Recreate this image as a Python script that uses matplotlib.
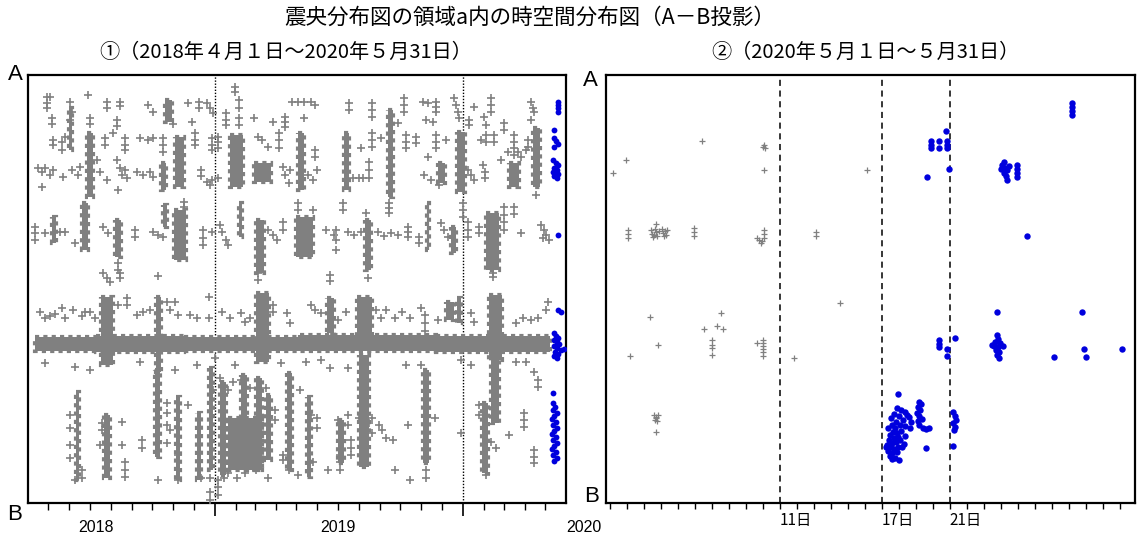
import datetime as dt
import matplotlib.pyplot as plt
from matplotlib.transforms import blended_transform_factory

plt.rcParams['font.family'] = ['Noto Sans CJK JP', 'DejaVu Sans']

GRAY = '#808080'
BLUE = '#0000dd'

# ---------------- panel 1 : days since 2018-04-01 / distance from A (A=0, B=428)
left_start = dt.date(2018, 4, 1)
left_end = dt.date(2020, 6, 1)

# dense swarms drawn as filled blocks: (day0, day1, dist_top, dist_bottom)
swarms = [
    (60, 65, 33, 75), (87, 96, 58, 122), (202, 212, 25, 47), (217, 230, 62, 112),
    (298, 317, 60, 112), (332, 357, 88, 107), (398, 407, 58, 115), (465, 472, 58, 115),
    (530, 538, 35, 122), (603, 614, 88, 108), (631, 643, 57, 117), (708, 723, 88, 112),
    (743, 754, 53, 112), (196, 203, 88, 115),
    (35, 41, 142, 168), (80, 89, 128, 175), (128, 137, 145, 182), (215, 233, 135, 185),
    (199, 205, 130, 152), (336, 348, 145, 198), (395, 419, 142, 182), (496, 505, 145, 195),
    (622, 630, 152, 178), (674, 693, 138, 195), (587, 591, 128, 175), (311, 315, 128, 162),
    # main horizontal band
    (10, 100, 262, 276), (100, 230, 261, 277), (230, 400, 262, 276),
    (400, 600, 260, 276), (600, 768, 261, 277),
    # streaks through the band
    (108, 125, 222, 290), (189, 196, 222, 297), (336, 355, 218, 287), (440, 451, 223, 258),
    (485, 506, 222, 260), (487, 502, 280, 392), (616, 627, 227, 245), (631, 638, 223, 248),
    (679, 698, 220, 285), (681, 694, 285, 348), (581, 590, 295, 388),
    # lower part
    (71, 75, 317, 405), (112, 120, 340, 403), (187, 195, 295, 382), (218, 224, 322, 405),
    (249, 255, 338, 405), (266, 273, 293, 395), (295, 345, 343, 395), (283, 291, 307, 400),
    (313, 322, 300, 395), (335, 345, 303, 395), (350, 357, 320, 385), (381, 389, 298, 395),
    (410, 416, 322, 402), (456, 465, 345, 388), (668, 677, 328, 398),
]

left_gray = [
    (28, 22), (28, 28), (28, 33), (32, 22), (35, 43), (35, 49), (37, 65), (37, 70), (50, 67),
    (50, 75), (55, 62), (62, 27), (65, 37), (62, 45), (89, 20), (91, 43), (91, 49), (117, 27),
    (117, 33), (114, 63), (114, 70), (125, 58), (131, 45), (131, 51), (136, 27), (136, 31),
    (143, 63), (143, 70), (143, 75), (165, 63), (176, 65), (184, 63), (176, 30), (184, 37),
    (199, 63), (199, 70), (199, 77), (214, 49), (236, 28), (242, 47), (251, 27), (251, 33),
    (246, 58), (246, 65), (246, 70), (264, 28), (268, 33), (273, 38), (271, 63), (271, 70),
    (271, 75), (280, 62), (280, 67), (280, 73), (291, 38), (291, 45), (291, 50), (305, 12),
    (305, 17), (310, 25), (310, 33), (310, 43), (310, 50), (332, 43), (338, 62), (345, 65),
    (353, 72), (361, 47), (369, 58), (369, 65), (369, 73), (379, 42), (379, 47), (379, 52),
    (389, 27), (397, 27), (406, 27), (416, 27), (423, 30), (406, 43), (423, 75), (423, 82),
    (472, 28), (472, 35), (507, 28), (507, 35), (507, 42), (507, 58), (507, 65), (507, 72),
    (490, 73), (519, 63), (544, 48), (553, 23), (553, 30), (553, 37), (556, 60), (556, 67),
    (556, 73), (571, 62), (571, 68), (581, 27), (589, 28), (586, 45), (596, 47), (600, 27),
    (600, 32), (600, 37), (600, 60), (600, 67), (600, 73), (615, 65), (627, 23), (630, 30),
    (633, 37), (634, 43), (649, 45), (649, 50), (656, 32), (667, 65), (671, 42), (674, 50),
    (674, 60), (674, 67), (681, 23), (681, 30), (681, 37), (686, 60), (686, 67), (696, 85),
    (701, 48), (701, 55), (707, 77), (715, 80), (715, 60), (715, 67), (715, 73), (721, 77),
    (726, 82), (736, 65), (736, 72), (740, 27), (743, 33), (745, 37), (740, 45), (748, 120),
    # around distance 90-120
    (15, 93), (21, 97), (25, 93), (32, 100), (37, 95), (21, 112), (52, 102), (65, 95),
    (74, 100), (77, 92), (102, 85), (106, 97), (117, 105), (131, 85), (136, 93), (139, 100),
    (143, 95), (146, 103), (133, 115), (161, 97), (170, 100), (180, 97), (184, 102), (254, 95),
    (254, 101), (264, 107), (271, 105), (279, 103), (268, 110), (376, 92), (379, 100),
    (384, 108), (386, 95), (412, 100), (419, 105), (426, 95), (478, 103), (487, 103),
    (493, 103), (502, 87), (502, 95), (502, 103), (583, 100), (589, 82), (593, 105),
    (605, 110), (648, 95), (652, 100), (656, 105), (670, 90), (673, 97), (673, 103), (733, 75),
    # around distance 130-210
    (10, 152), (10, 158), (10, 165), (25, 158), (47, 157), (55, 157), (69, 168), (111, 152),
    (118, 158), (133, 188), (133, 195), (158, 155), (158, 162), (184, 157), (192, 160),
    (199, 162), (229, 127), (229, 132), (257, 155), (257, 163), (257, 170), (271, 157),
    (283, 150), (286, 157), (291, 165), (295, 170), (353, 155), (360, 160), (367, 165),
    (375, 147), (375, 155), (397, 128), (397, 135), (420, 135), (438, 155), (450, 160),
    (453, 155), (453, 165), (453, 175), (463, 128), (463, 135), (471, 157), (480, 160),
    (490, 157), (497, 138), (515, 157), (524, 161), (534, 158), (544, 160), (531, 128),
    (531, 133), (531, 138), (559, 152), (559, 157), (559, 162), (575, 162), (575, 168),
    (608, 148), (612, 155), (618, 162), (640, 128), (640, 135), (640, 142), (648, 147),
    (648, 155), (648, 162), (664, 152), (664, 158), (684, 198), (701, 132), (701, 140),
    (701, 147), (701, 155), (715, 132), (715, 139), (726, 158), (755, 150), (759, 155),
    (763, 160), (767, 165), (758, 163), (111, 198), (117, 203), (121, 207), (136, 198),
    (136, 203), (192, 201), (339, 198), (339, 205), (445, 200), (445, 206), (500, 203),
    (684, 202),
    # just above and below the band
    (18, 237), (25, 243), (32, 241), (40, 239), (50, 233), (55, 243), (66, 235), (80, 241),
    (84, 237), (91, 237), (99, 243), (133, 230), (146, 223), (146, 230), (161, 240),
    (170, 237), (180, 235), (204, 227), (209, 235), (217, 227), (221, 240), (239, 240),
    (249, 243), (266, 222), (266, 243), (286, 237), (298, 243), (313, 238), (320, 247),
    (327, 243), (360, 230), (360, 237), (382, 238), (386, 248), (416, 230), (423, 235),
    (431, 238), (457, 245), (468, 237), (512, 235), (519, 243), (527, 235), (541, 243),
    (551, 237), (563, 243), (578, 233), (585, 240), (585, 248), (585, 256), (603, 245),
    (652, 238), (656, 247), (718, 248), (728, 243), (740, 245), (751, 243), (763, 235),
    (766, 227), (25, 288), (69, 292), (91, 295), (165, 287), (217, 295), (249, 290),
    (276, 283), (305, 290), (372, 288), (409, 287), (431, 285), (445, 293), (471, 293),
    (556, 290), (578, 290), (637, 285), (652, 290), (718, 287), (733, 287), (745, 297),
    (751, 305), (751, 312),
    # lower part
    (62, 340), (62, 353), (62, 370), (62, 383), (69, 405), (80, 395), (80, 403), (109, 348),
    (109, 355), (106, 370), (139, 347), (139, 370), (143, 387), (143, 395), (143, 402),
    (168, 365), (168, 373), (192, 405), (205, 328), (205, 338), (205, 350), (205, 368),
    (209, 355), (235, 330), (221, 380), (221, 395), (221, 405), (254, 403), (268, 403),
    (268, 417), (268, 425), (273, 315), (283, 303), (295, 315), (302, 307), (313, 305),
    (327, 313), (350, 313), (288, 403), (295, 398), (308, 403), (320, 398), (335, 395),
    (353, 403), (364, 335), (364, 345), (376, 380), (376, 385), (384, 395), (401, 315),
    (398, 400), (426, 343), (426, 353), (413, 395), (416, 340), (420, 387), (441, 395),
    (456, 345), (463, 365), (471, 340), (471, 350), (475, 365), (475, 373), (475, 380),
    (460, 380), (460, 387), (460, 395), (487, 343), (502, 348), (507, 343), (516, 350),
    (521, 355), (507, 358), (527, 363), (537, 365), (559, 350), (541, 395), (563, 405),
    (586, 395), (586, 403), (599, 343), (637, 358), (664, 330), (664, 340), (674, 400),
    (681, 367), (689, 373), (708, 360), (730, 338), (730, 345), (730, 352), (745, 375),
    (745, 382), (745, 388), (280, 405), (280, 412), (280, 420),
]

left_blue = [
    (780, 27), (780, 30), (780, 33), (780, 37), (774, 55), (774, 63), (777, 66), (780, 69),
    (774, 72), (773, 85), (777, 88), (780, 90), (774, 93), (779, 95), (773, 97), (780, 99),
    (774, 101), (779, 103), (780, 160), (780, 235), (785, 237), (774, 258), (777, 261),
    (780, 263), (774, 265), (779, 267), (782, 269), (774, 271), (779, 273), (785, 275),
    (789, 274), (776, 277), (780, 279), (774, 281), (779, 283), (773, 318), (773, 328),
    (776, 332), (773, 335), (779, 338), (774, 341), (771, 344), (777, 347), (773, 350),
    (779, 353), (774, 356), (771, 359), (777, 362), (773, 365), (779, 368), (774, 371),
    (771, 374), (777, 377), (773, 380), (779, 383), (774, 386),
]

# ---------------- panel 2 : day of May 2020 / distance from A
right_gray = [
    (1.18, 98), (1.94, 85), (6.41, 66), (10.06, 70), (10.12, 73), (9.98, 72), (10.06, 95),
    (16.12, 95), (2.06, 155), (2.06, 159), (2.06, 163),
    (3.41, 155), (3.47, 159), (3.53, 162), (3.65, 154), (3.71, 157), (3.76, 161), (3.88, 156),
    (3.71, 149), (3.59, 160), (4.06, 154), (4.12, 158), (4.24, 156), (4.29, 160), (4.35, 155),
    (4.18, 161), (5.94, 153), (5.94, 157), (5.94, 161), (10.06, 155), (10.06, 159),
    (10.06, 163), (9.94, 166), (9.76, 165), (9.88, 168), (9.65, 163), (13.12, 157),
    (13.12, 161), (3.35, 242), (3.82, 270), (2.18, 281), (6.53, 254), (7.29, 251), (7.53, 238),
    (7.65, 254), (7.0, 265), (7.0, 270), (7.0, 273), (7.0, 280), (9.65, 268), (10.0, 265),
    (10.0, 268), (10.0, 271), (10.0, 274), (10.0, 277), (10.0, 281), (11.82, 283),
    (14.53, 228), (3.59, 340), (3.71, 342), (3.82, 340), (3.65, 345), (3.76, 346),
    (3.71, 343), (3.71, 357),
]

right_blue = [
    (20.76, 56), (19.88, 66), (19.88, 70), (19.88, 73), (20.35, 66), (20.35, 73), (20.82, 66),
    (20.82, 70), (20.82, 73), (20.94, 94), (19.65, 102), (24.06, 90), (24.18, 87), (24.24, 93),
    (24.35, 95), (24.18, 98), (24.29, 101), (24.35, 105), (24.47, 91), (24.0, 94), (24.94, 90),
    (24.94, 94), (24.94, 98), (24.94, 102), (28.18, 28), (28.18, 32), (28.18, 36),
    (28.18, 40), (25.53, 161), (23.76, 237), (28.76, 237), (20.35, 265), (20.35, 269),
    (20.35, 272), (21.29, 263), (20.82, 274), (20.82, 281), (23.76, 260), (23.82, 264),
    (23.65, 267), (23.94, 268), (23.59, 271), (23.82, 272), (24.12, 271), (23.71, 275),
    (23.88, 277), (23.76, 280), (23.88, 283), (23.47, 270), (27.12, 282), (28.88, 274),
    (29.0, 282), (31.12, 274), (17.94, 319),
    (17.88, 333), (18.12, 335), (18.35, 337), (18.47, 340), (17.71, 339), (17.53, 343),
    (18.0, 341), (18.24, 345), (18.59, 342), (18.71, 347), (17.82, 347), (17.59, 350),
    (17.35, 353), (17.76, 353), (18.06, 350), (18.35, 351), (17.65, 357), (17.88, 358),
    (18.12, 356), (17.47, 360), (17.71, 363), (17.94, 362), (17.41, 365), (17.59, 368),
    (17.82, 367), (18.06, 365), (17.29, 370), (17.53, 372), (17.71, 374), (17.94, 372),
    (18.29, 369), (17.35, 376), (17.59, 378), (17.47, 381), (17.76, 383), (18.0, 385),
    (17.59, 384), (18.18, 372), (17.24, 372), (17.88, 377), (18.35, 361), (18.65, 353),
    (19.18, 327), (19.29, 329), (19.12, 332), (19.24, 335), (19.06, 338), (19.18, 341),
    (19.35, 344), (19.12, 346), (19.18, 350), (19.41, 353), (19.59, 354), (19.76, 353),
    (19.59, 373), (21.18, 337), (21.29, 341), (21.35, 345), (21.18, 348), (21.29, 352),
    (21.24, 355), (21.18, 371),
]


def unzip(pairs):
    return [p[0] for p in pairs], [p[1] for p in pairs]


fig = plt.figure(figsize=(11.37, 5.37), dpi=100)
ax1 = fig.add_axes([28 / 1137, 1 - 503 / 537, 538 / 1137, 428 / 537])
ax2 = fig.add_axes([606 / 1137, 1 - 503 / 537, 529 / 1137, 428 / 537])

# ---- panel 1
for d0, d1, top, bot in swarms:
    # dotted edge gives the ragged look of overlapping '+' marks
    ax1.bar(d0, bot - top, width=d1 - d0, bottom=top, align='edge',
            color=GRAY, edgecolor=GRAY, linewidth=3, linestyle=(0, (1, 1)), zorder=2)
x, y = unzip(left_gray)
ax1.plot(x, y, ls='none', marker='+', ms=5.5, mew=1.2, color=GRAY, zorder=3)
x, y = unzip(left_blue)
ax1.plot(x, y, ls='none', marker='o', ms=4.2, mew=0, color=BLUE, zorder=4)

total_days = (left_end - left_start).days
ax1.set_xlim(0, total_days)
ax1.set_ylim(428, 0)

month_days = []
year_days = []
y_, m_ = 2018, 5
while (y_, m_) <= (2020, 5):
    d = (dt.date(y_, m_, 1) - left_start).days
    (year_days if m_ == 1 else month_days).append(d)
    m_ += 1
    if m_ > 12:
        y_, m_ = y_ + 1, 1

ax1.set_xticks(year_days)
ax1.set_xticks(month_days, minor=True)
ax1.tick_params(axis='x', which='major', length=9, width=1.2, labelbottom=False)
ax1.tick_params(axis='x', which='minor', length=5, width=1.0)
ax1.set_yticks([])
for d in year_days:
    ax1.axvline(d, color='black', ls=(0, (1, 1.2)), lw=1.0, zorder=1)

trans1 = blended_transform_factory(ax1.transData, ax1.transAxes)
for year, label_date in [(2018, dt.date(2018, 7, 10)), (2019, dt.date(2019, 7, 1)),
                         (2020, dt.date(2020, 6, 28))]:
    d = (label_date - left_start).days
    ax1.text(d, -0.057, str(year), transform=trans1, ha='center', va='center',
             fontsize=11.5, family='Liberation Sans', clip_on=False)

# ---- panel 2
x, y = unzip(right_gray)
ax2.plot(x, y, ls='none', marker='+', ms=4.0, mew=0.9, color=GRAY, zorder=3)
x, y = unzip(right_blue)
ax2.plot(x, y, ls='none', marker='o', ms=4.6, mew=0, color=BLUE, zorder=4)
ax2.set_xlim(0.76, 31.9)
ax2.set_ylim(428, 0)
ax2.set_yticks([])
ax2.set_xticks(range(1, 32))
ax2.tick_params(axis='x', length=4, width=1.0, labelbottom=False)
trans2 = blended_transform_factory(ax2.transData, ax2.transAxes)
for d in [11, 17, 21]:
    ax2.axvline(d, color='black', ls=(0, (4, 3)), lw=1.1, zorder=1)
    ax2.text(d, -0.022, f'{d}日', transform=trans2, ha='left', va='top', fontsize=11)

for ax in (ax1, ax2):
    for s in ax.spines.values():
        s.set_linewidth(1.6)

# ---- texts
fig.text(530 / 1137, 1 - 18 / 537, '震央分布図の領域a内の時空間分布図（A－B投影）',
         ha='center', va='center', fontsize=15.5)
fig.text(286 / 1137, 1 - 52 / 537, '①（2018年４月１日～2020年５月31日）',
         ha='center', va='center', fontsize=14.5)
fig.text(865 / 1137, 1 - 52 / 537, '②（2020年５月１日～５月31日）',
         ha='center', va='center', fontsize=14.5)
for xp, yp, s in [(15, 75, 'A'), (15, 515, 'B'), (590, 80, 'A'), (592, 497, 'B')]:
    fig.text(xp / 1137, 1 - yp / 537, s, ha='center', va='center', fontsize=16,
             family='Liberation Sans')

fig.savefig('out.png', dpi=100)
